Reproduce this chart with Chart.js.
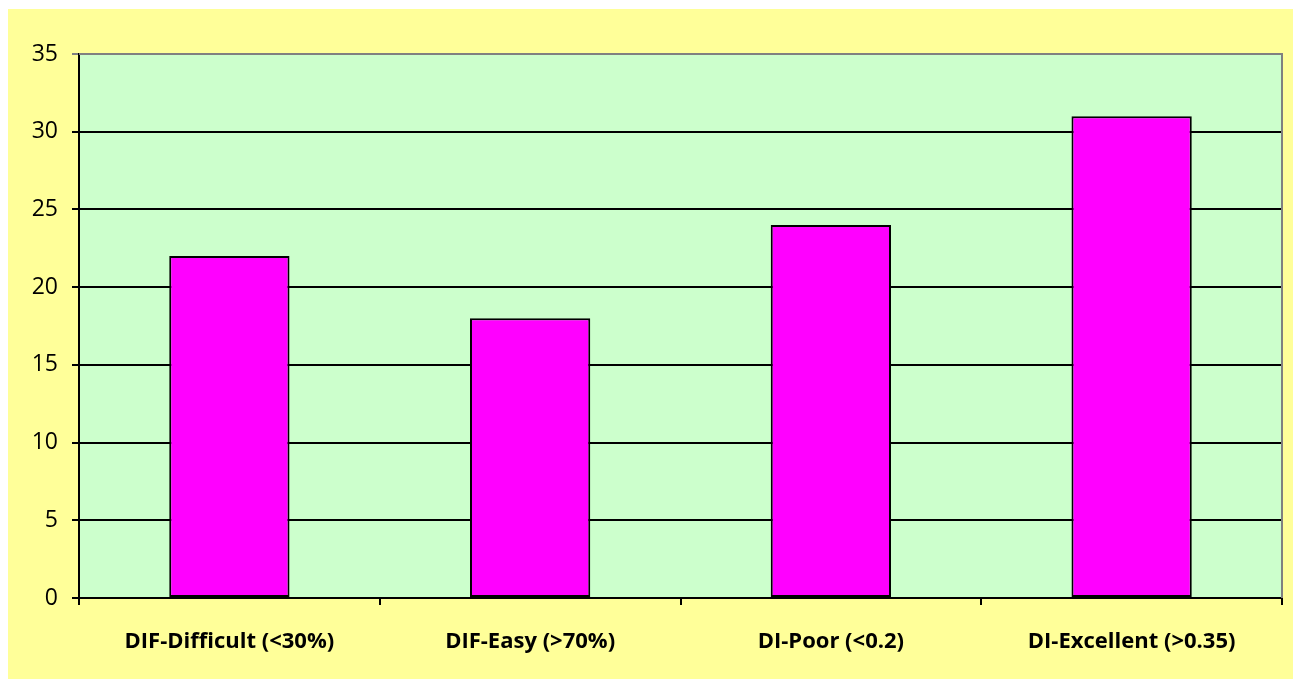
<!DOCTYPE html>
<html>
<head>
<meta charset="utf-8">
<script src="https://cdn.jsdelivr.net/npm/chart.js@4/dist/chart.umd.min.js"></script>
<style>
  html, body { margin: 0; padding: 0; background: #fff; }
  #wrap { width: 1293px; height: 679px; }
</style>
</head>
<body>
<div id="wrap"><canvas id="chart"></canvas></div>
<script>
// categories and counts
const categories = ['DIF-Difficult (<30%)', 'DIF-Easy (>70%)', 'DI-Poor (<0.2)', 'DI-Excellent (>0.35)'];
const counts = [22, 18, 24, 31];
const yTicks = [0, 5, 10, 15, 20, 25, 30, 35];

// yellow page + green plot area, gray frame on top/right
const panelBg = {
  id: 'panelBg',
  beforeDraw(chart) {
    const { ctx, chartArea: a } = chart;
    ctx.save();
    ctx.fillStyle = '#ffffff';
    ctx.fillRect(0, 0, chart.width, chart.height);
    ctx.fillStyle = '#FFFF99';
    ctx.fillRect(8, 9, chart.width - 8, chart.height - 9);
    ctx.fillStyle = '#CCFFCC';
    ctx.fillRect(a.left, a.top, a.right - a.left, a.bottom - a.top);
    ctx.restore();
  },
  afterDraw(chart) {
    const { ctx, chartArea: a } = chart;
    ctx.save();
    ctx.strokeStyle = '#808080';
    ctx.lineWidth = 2;
    ctx.beginPath();
    ctx.moveTo(a.left, a.top);
    ctx.lineTo(a.right, a.top);
    ctx.lineTo(a.right, a.bottom);
    ctx.stroke();
    ctx.restore();
  }
};

new Chart(document.getElementById('chart'), {
  type: 'bar',
  data: {
    labels: categories,
    datasets: [{
      data: counts,
      backgroundColor: '#FF00FF',
      borderColor: '#000000',
      borderWidth: 2,
      borderSkipped: false,
      categoryPercentage: 1,
      barPercentage: 0.4
    }]
  },
  options: {
    responsive: true,
    maintainAspectRatio: false,
    animation: false,
    layout: { padding: { left: 0, top: 54, right: 11, bottom: 0 } },
    plugins: { legend: { display: false }, tooltip: { enabled: false } },
    scales: {
      x: {
        grid: { offset: true, drawOnChartArea: false, color: '#000', lineWidth: 2, tickLength: 7 },
        border: { color: '#000', width: 2 },
        ticks: {
          color: '#000',
          padding: 24,
          maxRotation: 0,
          font: { family: '"Open Sans", sans-serif', size: 22, weight: 'bold' }
        },
        afterFit(scale) { scale.height = 81; }
      },
      y: {
        min: 0,
        max: 35,
        afterBuildTicks(scale) { scale.ticks = yTicks.map(v => ({ value: v })); },
        grid: {
          color: ctx => (ctx.tick && ctx.tick.value === 35 ? '#808080' : '#000'),
          lineWidth: 2,
          tickLength: 7
        },
        border: { color: '#000', width: 2 },
        ticks: {
          color: '#000',
          padding: 14,
          font: { family: '"Open Sans", sans-serif', size: 23 }
        },
        afterFit(scale) { scale.width = 79; }
      }
    }
  },
  plugins: [panelBg]
});
</script>
</body>
</html>
